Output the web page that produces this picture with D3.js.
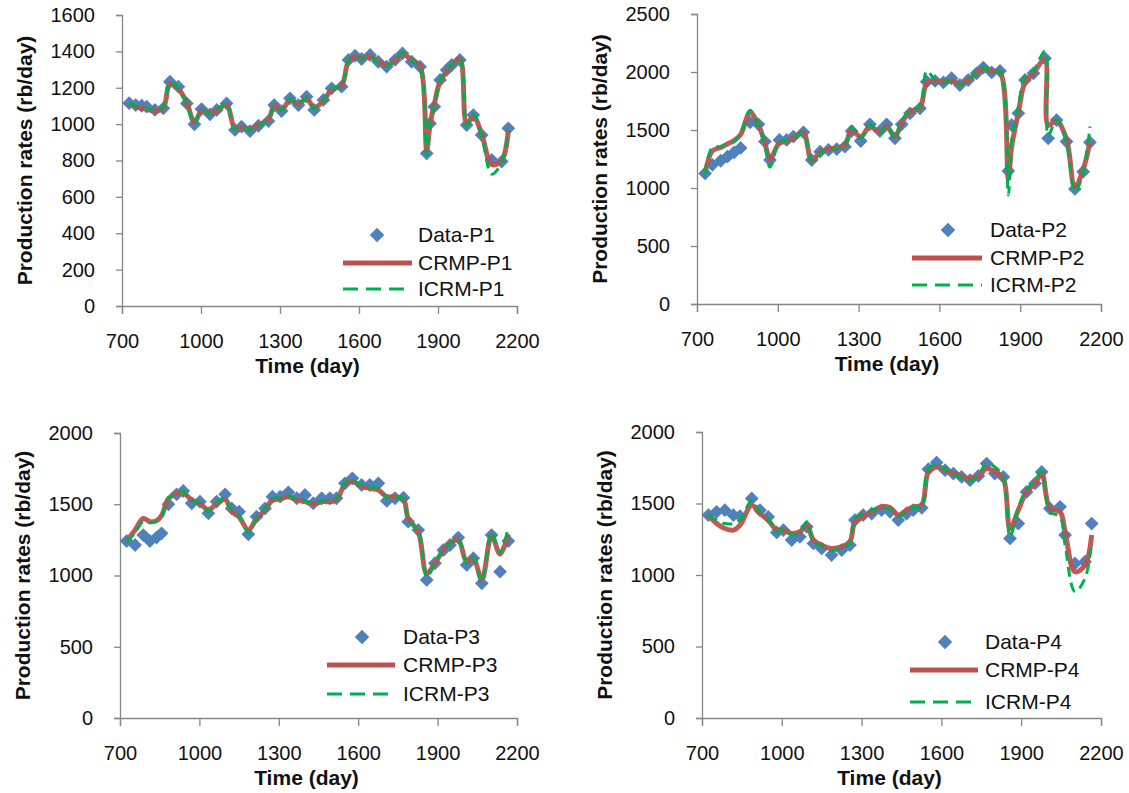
<!DOCTYPE html>
<html><head><meta charset="utf-8">
<script src="https://cdn.jsdelivr.net/npm/d3@7"></script>
<style>
  body { margin: 0; background: #fff; }
  text { font-family: "Liberation Sans", Arial, sans-serif; fill: #111; }
</style>
</head>
<body>
<svg id="chart" width="1129" height="793"></svg>
<script>
"use strict";
// ---- data (time in days, rates in rb/day) ----
const xTicks = [700, 1000, 1300, 1600, 1900, 2200];
const yTicksP1 = [0, 200, 400, 600, 800, 1000, 1200, 1400, 1600];
const yTicksP2 = [0, 500, 1000, 1500, 2000, 2500];
const yTicksP34 = [0, 500, 1000, 1500, 2000];

const daysP1 = [727, 752, 775, 794, 825, 857, 882, 914, 946, 975, 1002, 1034, 1060, 1097, 1129, 1154, 1186, 1218, 1256, 1278, 1306, 1338, 1370, 1401, 1430, 1465, 1496, 1534, 1560, 1585, 1610, 1642, 1673, 1705, 1737, 1765, 1800, 1832, 1857, 1870, 1886, 1908, 1933, 1952, 1983, 2009, 2034, 2066, 2104, 2142, 2167];
const dataP1 = [1115, 1105, 1101, 1096, 1078, 1087, 1233, 1206, 1114, 999, 1083, 1054, 1078, 1114, 968, 986, 962, 991, 1017, 1105, 1072, 1142, 1105, 1151, 1078, 1133, 1197, 1206, 1353, 1376, 1358, 1380, 1343, 1316, 1353, 1389, 1343, 1316, 839, 1004, 1096, 1243, 1298, 1325, 1353, 995, 1050, 940, 803, 794, 977];
const crmpP1 = [1112, 1095, 1088, 1082, 1072, 1090, 1222, 1195, 1118, 1010, 1072, 1060, 1075, 1105, 975, 982, 970, 995, 1025, 1098, 1078, 1132, 1110, 1140, 1092, 1128, 1190, 1212, 1345, 1370, 1362, 1372, 1345, 1322, 1350, 1385, 1352, 1320, 858, 1000, 1110, 1235, 1290, 1322, 1358, 1000, 1045, 945, 778, 800, 965];
const icrmP1 = [1118, 1100, 1092, 1085, 1075, 1095, 1228, 1200, 1112, 1005, 1078, 1058, 1080, 1110, 972, 985, 968, 992, 1020, 1102, 1075, 1138, 1108, 1145, 1085, 1130, 1195, 1210, 1350, 1374, 1360, 1375, 1340, 1318, 1352, 1392, 1348, 1310, 830, 1010, 1100, 1240, 1295, 1325, 1355, 990, 1055, 935, 725, 790, 970];

const daysP2 = [730, 757, 788, 813, 838, 862, 897, 928, 952, 971, 1006, 1033, 1058, 1095, 1126, 1157, 1188, 1219, 1249, 1274, 1308, 1342, 1379, 1404, 1435, 1460, 1491, 1528, 1553, 1584, 1615, 1645, 1676, 1707, 1738, 1763, 1794, 1825, 1856, 1868, 1893, 1918, 1949, 1992, 2004, 2035, 2072, 2103, 2134, 2159];
const dataP2 = [1126, 1200, 1235, 1270, 1308, 1345, 1566, 1549, 1400, 1241, 1414, 1414, 1443, 1480, 1241, 1313, 1328, 1336, 1356, 1491, 1405, 1549, 1491, 1549, 1428, 1549, 1644, 1687, 1917, 1923, 1911, 1946, 1888, 1931, 1989, 2038, 1997, 2009, 1147, 1543, 1644, 1931, 1989, 2118, 1428, 1586, 1400, 992, 1141, 1394];
const crmpP2 = [1126, 1320, 1350, 1380, 1410, 1460, 1650, 1545, 1390, 1250, 1390, 1400, 1430, 1475, 1235, 1310, 1335, 1345, 1370, 1500, 1440, 1530, 1480, 1530, 1445, 1560, 1660, 1690, 1905, 1925, 1915, 1925, 1895, 1930, 1990, 2030, 2005, 2000, 1080, 1350, 1650, 1910, 1990, 2110, 1540, 1580, 1420, 1010, 1160, 1400];
const icrmP2 = [1120, 1350, 1355, 1375, 1400, 1470, 1670, 1540, 1380, 1180, 1400, 1405, 1425, 1480, 1230, 1300, 1330, 1340, 1365, 1530, 1430, 1545, 1470, 1545, 1430, 1580, 1670, 1700, 2010, 1930, 1905, 1930, 1885, 1935, 1995, 2040, 2000, 2005, 940, 1400, 1700, 1960, 2010, 2180, 1450, 1590, 1390, 970, 1130, 1530];

const daysP3 = [725, 757, 788, 813, 838, 857, 883, 914, 939, 971, 1002, 1034, 1065, 1097, 1122, 1150, 1185, 1216, 1248, 1276, 1305, 1336, 1368, 1399, 1430, 1462, 1493, 1518, 1550, 1578, 1613, 1644, 1676, 1708, 1739, 1771, 1789, 1827, 1859, 1890, 1922, 1947, 1978, 2010, 2035, 2067, 2104, 2136, 2167];
const dataP3 = [1242, 1214, 1284, 1242, 1266, 1296, 1500, 1570, 1593, 1507, 1518, 1436, 1518, 1570, 1471, 1448, 1289, 1413, 1471, 1553, 1553, 1584, 1542, 1565, 1507, 1542, 1542, 1542, 1647, 1682, 1635, 1635, 1647, 1523, 1542, 1546, 1378, 1319, 969, 1086, 1179, 1214, 1266, 1074, 1121, 945, 1284, 1027, 1242];
const crmpP3 = [1242, 1320, 1400, 1378, 1385, 1420, 1540, 1577, 1580, 1530, 1505, 1460, 1505, 1535, 1450, 1410, 1320, 1400, 1460, 1530, 1537, 1553, 1530, 1518, 1500, 1518, 1518, 1530, 1640, 1659, 1624, 1612, 1600, 1553, 1553, 1535, 1400, 1308, 1015, 1086, 1179, 1226, 1249, 1097, 1121, 970, 1280, 1150, 1290];
const icrmP3 = [1235, 1300, 1380, 1370, 1380, 1410, 1545, 1575, 1590, 1525, 1510, 1450, 1510, 1545, 1455, 1420, 1300, 1405, 1465, 1540, 1545, 1560, 1535, 1525, 1505, 1525, 1525, 1535, 1650, 1670, 1630, 1620, 1610, 1545, 1548, 1540, 1390, 1310, 990, 1090, 1185, 1220, 1260, 1085, 1125, 960, 1300, 1160, 1340];

const daysP4 = [724, 755, 786, 818, 843, 887, 918, 949, 981, 1006, 1037, 1068, 1094, 1119, 1150, 1187, 1225, 1256, 1275, 1306, 1338, 1375, 1407, 1438, 1469, 1494, 1526, 1551, 1582, 1614, 1645, 1676, 1708, 1739, 1770, 1801, 1833, 1858, 1889, 1920, 1952, 1977, 2008, 2046, 2065, 2102, 2140, 2165];
const dataP4 = [1419, 1442, 1453, 1419, 1412, 1535, 1453, 1407, 1298, 1314, 1244, 1267, 1337, 1221, 1186, 1139, 1174, 1209, 1384, 1419, 1430, 1453, 1442, 1384, 1430, 1453, 1470, 1740, 1786, 1733, 1709, 1686, 1663, 1693, 1779, 1709, 1686, 1256, 1360, 1581, 1640, 1721, 1465, 1477, 1279, 1081, 1093, 1360];
const crmpP4 = [1419, 1360, 1325, 1314, 1349, 1488, 1430, 1384, 1314, 1314, 1291, 1302, 1349, 1244, 1209, 1186, 1198, 1232, 1372, 1407, 1442, 1477, 1470, 1419, 1453, 1477, 1488, 1721, 1756, 1733, 1709, 1686, 1674, 1686, 1744, 1721, 1674, 1325, 1453, 1581, 1640, 1709, 1465, 1442, 1302, 1023, 1070, 1279];
const icrmP4 = [1419, 1384, 1360, 1360, 1384, 1520, 1440, 1395, 1300, 1320, 1280, 1300, 1370, 1240, 1200, 1170, 1190, 1220, 1400, 1430, 1450, 1470, 1460, 1405, 1445, 1470, 1480, 1745, 1770, 1740, 1705, 1675, 1655, 1700, 1780, 1756, 1680, 1267, 1470, 1600, 1660, 1725, 1442, 1407, 1209, 884, 977, 1232];

// ---- layout ----
const BLUE = "#4f81bd", RED = "#c0504d", GREEN = "#00b050", AXIS = "#868686";

const panels = [
  { well: "P1", days: daysP1, data: dataP1, crmp: crmpP1, icrm: icrmP1, yTicks: yTicksP1,
    left: 122, right: 517, top: 15, bottom: 306,
    leg: { mark: 140, text: 99, l0: 174, l1: 105, rows: [71, 43, 17] } },
  { well: "P2", days: daysP2, data: dataP2, crmp: crmpP2, icrm: icrmP2, yTicks: yTicksP2,
    left: 697, right: 1101, top: 14, bottom: 304,
    leg: { mark: 153, text: 111, l0: 189, l1: 119, rows: [74, 46, 19] } },
  { well: "P3", days: daysP3, data: dataP3, crmp: crmpP3, icrm: icrmP3, yTicks: yTicksP34,
    left: 120, right: 517, top: 433, bottom: 718,
    leg: { mark: 155, text: 114, l0: 190, l1: 122, rows: [81, 53, 24] } },
  { well: "P4", days: daysP4, data: dataP4, crmp: crmpP4, icrm: icrmP4, yTicks: yTicksP34,
    left: 702, right: 1101, top: 432, bottom: 718,
    leg: { mark: 156, text: 116, l0: 191, l1: 123, rows: [76, 48, 16] } }
];

const svg = d3.select("#chart");
const diamond = d3.symbol().type(d3.symbolSquare).size(95);
const legDiamond = d3.symbol().type(d3.symbolSquare).size(105);

function drawPanel(p) {
  const x = d3.scaleLinear().domain([700, 2200]).range([p.left, p.right]);
  const y = d3.scaleLinear().domain([0, d3.max(p.yTicks)]).range([p.bottom, p.top]);
  const g = svg.append("g");

  // axes
  const xa = g.append("g").attr("transform", `translate(0,${p.bottom})`)
    .call(d3.axisBottom(x).tickValues(xTicks).tickSize(8).tickPadding(20).tickFormat(d3.format("d")));
  const ya = g.append("g").attr("transform", `translate(${p.left},0)`)
    .call(d3.axisLeft(y).tickValues(p.yTicks).tickSize(6).tickPadding(21).tickFormat(d3.format("d")));
  [xa, ya].forEach(a => {
    a.select(".domain").attr("stroke", AXIS).attr("stroke-width", 1.3);
    a.selectAll(".tick line").attr("stroke", AXIS).attr("stroke-width", 1.3);
    a.selectAll(".tick text").style("font-size", "20px").attr("fill", "#111");
  });

  // axis titles
  g.append("text")
    .attr("x", (p.left + p.right) / 2 - 12).attr("y", p.bottom + 67)
    .attr("text-anchor", "middle").style("font-size", "21px").style("font-weight", "bold")
    .text("Time (day)");
  g.append("text")
    .attr("transform", `translate(${p.left - 90},${(p.top + p.bottom) / 2}) rotate(-90)`)
    .attr("text-anchor", "middle").style("font-size", "21px").style("font-weight", "bold")
    .text("Production rates (rb/day)");

  // data markers
  g.append("g").selectAll("path").data(p.days.map((d, i) => [d, p.data[i]])).join("path")
    .attr("d", diamond)
    .attr("transform", d => `translate(${x(d[0])},${y(d[1])}) rotate(45)`)
    .attr("fill", BLUE);

  // model lines
  const line = d3.line().x(d => x(d[0])).y(d => y(d[1])).curve(d3.curveCatmullRom);
  g.append("path").datum(p.days.map((d, i) => [d, p.crmp[i]]))
    .attr("d", line).attr("fill", "none").attr("stroke", RED).attr("stroke-width", 5)
    .attr("stroke-linejoin", "round").attr("stroke-opacity", 0.95);
  g.append("path").datum(p.days.map((d, i) => [d, p.icrm[i]]))
    .attr("d", line).attr("fill", "none").attr("stroke", GREEN).attr("stroke-width", 3)
    .attr("stroke-dasharray", "10,6");

  // legend
  const L = p.leg;
  const rowY = L.rows.map(r => p.bottom - r);
  g.append("path").attr("d", legDiamond)
    .attr("transform", `translate(${p.right - L.mark},${rowY[0]}) rotate(45)`).attr("fill", BLUE);
  g.append("line").attr("x1", p.right - L.l0).attr("x2", p.right - L.l1)
    .attr("y1", rowY[1]).attr("y2", rowY[1]).attr("stroke", RED).attr("stroke-width", 5);
  g.append("line").attr("x1", p.right - L.l0).attr("x2", p.right - L.l1)
    .attr("y1", rowY[2]).attr("y2", rowY[2]).attr("stroke", GREEN).attr("stroke-width", 3)
    .attr("stroke-dasharray", "15,8");
  const labels = ["Data-" + p.well, "CRMP-" + p.well, "ICRM-" + p.well];
  labels.forEach((t, i) => {
    g.append("text").attr("x", p.right - L.text).attr("y", rowY[i] + 7)
      .style("font-size", "21px").text(t);
  });
}

panels.forEach(drawPanel);
</script>
</body>
</html>
